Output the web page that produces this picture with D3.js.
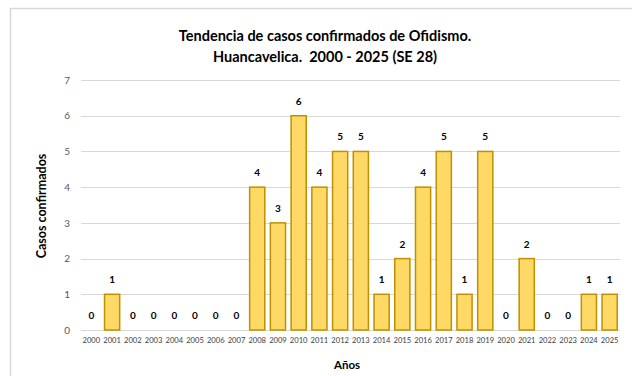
<!DOCTYPE html>
<html>
<head>
<meta charset="utf-8">
<script src="https://cdn.jsdelivr.net/npm/d3@7"></script>
<style>
  html, body { margin: 0; padding: 0; background: #fff; }
  svg { display: block; font-family: Lato, "Open Sans", sans-serif; }
</style>
</head>
<body>
<svg id="chart" width="632" height="376"></svg>
<script>
// Annual confirmed snakebite (ofidismo) cases, Huancavelica
const years = ["2000","2001","2002","2003","2004","2005","2006","2007","2008","2009",
               "2010","2011","2012","2013","2014","2015","2016","2017","2018","2019",
               "2020","2021","2022","2023","2024","2025"];
const cases = [0,1,0,0,0,0,0,0,4,3,6,4,5,5,1,2,4,5,1,5,0,2,0,0,1,1];
const yTicks = [0,1,2,3,4,5,6,7];
const titleLines = ["Tendencia de casos confirmados de Ofidismo.",
                    "Huancavelica.  2000 - 2025 (SE 28)"];

const data = years.map((y, i) => ({ year: y, value: cases[i] }));

const svg = d3.select("#chart");
const W = 632, H = 376;
const margin = { left: 81, right: 12, top: 80, bottom: 46 };

// outer chart frame (top and left edges visible)
svg.append("path")
  .attr("d", `M10.5,${H} V8.5 H${W}`)
  .attr("fill", "none")
  .attr("stroke", "#D9D9D9")
  .attr("stroke-width", 1.5);

const x = d3.scaleBand()
  .domain(years)
  .range([margin.left, W - margin.right])
  .paddingInner(0.27)
  .paddingOuter(0.135);

const y = d3.scaleLinear()
  .domain([0, 7])
  .range([H - margin.bottom, margin.top]);

// gridlines
svg.append("g")
  .selectAll("line")
  .data(yTicks)
  .join("line")
  .attr("x1", margin.left)
  .attr("x2", W - margin.right)
  .attr("y1", d => Math.round(y(d)) + 0.5)
  .attr("y2", d => Math.round(y(d)) + 0.5)
  .attr("stroke", "#D9D9D9")
  .attr("stroke-width", 1);

// y axis labels
const yAxis = d3.axisLeft(y).tickValues(yTicks).tickFormat(d3.format("d")).tickSize(0).tickPadding(11);
svg.append("g")
  .attr("transform", `translate(${margin.left},0)`)
  .call(yAxis)
  .call(g => g.select(".domain").remove())
  .call(g => g.selectAll("text")
    .attr("fill", "#595959")
    .style("font-size", "10px")
    .style("font-family", "Lato, 'Open Sans', sans-serif"));

// x axis labels
const xAxis = d3.axisBottom(x).tickSize(0).tickPadding(8);
svg.append("g")
  .attr("transform", `translate(0,${H - margin.bottom})`)
  .call(xAxis)
  .call(g => g.select(".domain").remove())
  .call(g => g.selectAll("text")
    .attr("fill", "#404040")
    .style("font-size", "7.6px")
    .style("font-family", "Lato, 'Open Sans', sans-serif"));

// bars
svg.append("g")
  .selectAll("rect")
  .data(data.filter(d => d.value > 0))
  .join("rect")
  .attr("x", d => x(d.year))
  .attr("y", d => y(d.value))
  .attr("width", x.bandwidth())
  .attr("height", d => y(0) - y(d.value))
  .attr("fill", "#FFD966")
  .attr("stroke", "#BF9000")
  .attr("stroke-width", 1.5);

// value labels
svg.append("g")
  .selectAll("text")
  .data(data)
  .join("text")
  .attr("x", d => x(d.year) + x.bandwidth() / 2)
  .attr("y", d => y(d.value) - 11)
  .attr("text-anchor", "middle")
  .attr("font-weight", "bold")
  .attr("font-size", "10px")
  .attr("fill", "#000")
  .text(d => d.value);

// title
svg.append("text")
  .attr("x", 325)
  .attr("text-anchor", "middle")
  .attr("font-weight", "bold")
  .attr("font-size", "14.5px")
  .attr("fill", "#000")
  .style("white-space", "pre")
  .selectAll("tspan")
  .data(titleLines)
  .join("tspan")
  .attr("x", 325)
  .attr("y", (d, i) => 41 + i * 21)
  .text(d => d);

// axis titles
svg.append("text")
  .attr("x", 347)
  .attr("y", 369)
  .attr("text-anchor", "middle")
  .attr("font-weight", "bold")
  .attr("font-size", "11.5px")
  .attr("fill", "#000")
  .text("Años");

svg.append("text")
  .attr("transform", `translate(46,${206}) rotate(-90)`)
  .attr("text-anchor", "middle")
  .attr("font-weight", "bold")
  .attr("font-size", "12.5px")
  .attr("fill", "#000")
  .text("Casos confirmados");
</script>
</body>
</html>
